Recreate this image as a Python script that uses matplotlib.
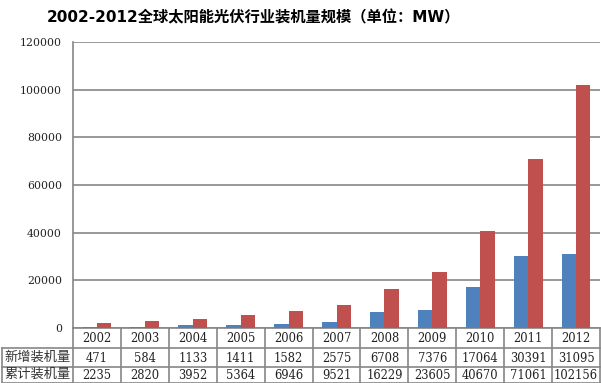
import matplotlib
matplotlib.use("Agg")
import matplotlib.pyplot as plt
import numpy as np

years = ["2002", "2003", "2004", "2005", "2006", "2007", "2008", "2009", "2010", "2011", "2012"]
new_cap = [471, 584, 1133, 1411, 1582, 2575, 6708, 7376, 17064, 30391, 31095]
cum_cap = [2235, 2820, 3952, 5364, 6946, 9521, 16229, 23605, 40670, 71061, 102156]
series_names = ["新增装机量", "累计装机量"]
yticks = [0, 20000, 40000, 60000, 80000, 100000, 120000]
title = "2002-2012全球太阳能光伏行业装机量规模（单位：MW）"

plt.rcParams['font.family'] = ['DejaVu Serif', 'Noto Sans CJK SC']

W, H = 601, 383
fig = plt.figure(figsize=(W / 100, H / 100), dpi=100)
L, R, T, B = 73, 600, 42, 328
ax = fig.add_axes([L / W, 1 - B / H, (R - L) / W, (B - T) / H])

n = len(years)
x = np.arange(n) + 0.5
bw = 0.3
ax.bar(x - bw / 2, new_cap, width=bw, color="#4F81BD", zorder=3)
ax.bar(x + bw / 2, cum_cap, width=bw, color="#C0504D", zorder=3)

ax.set_xlim(0, n)
ax.set_ylim(0, 120000)
ax.set_yticks(yticks)
ax.set_yticklabels([str(v) for v in yticks], fontsize=7.8, color="#222222")
ax.tick_params(axis='y', length=0, pad=8)
ax.set_xticks([])
ax.yaxis.grid(True, color="#868686", linewidth=1.2, zorder=0)
for s in ["top", "right"]:
    ax.spines[s].set_visible(False)
for s in ["left", "bottom"]:
    ax.spines[s].set_color("#868686")
    ax.spines[s].set_linewidth(1.2)

fig.text(253 / W, 1 - 18 / H, title, fontsize=11, fontweight="bold",
         family=["DejaVu Sans", "Noto Sans CJK SC"], ha="center", va="center")

# data table drawn in a pixel-unit overlay axes below the plot
tax = fig.add_axes([0, 0, 1, 1 - B / H])
tax.set_xlim(0, W)
tax.set_ylim(H, B)
tax.axis("off")
gc = "#868686"
lw = 1.2
col_w = (R - L) / n
rows_y = [B, 348, 367, H - 0.5]
# horizontal lines
tax.plot([L, R], [rows_y[1], rows_y[1]], color=gc, lw=lw, clip_on=False)
tax.plot([1.5, L], [rows_y[1], rows_y[1]], color=gc, lw=lw, clip_on=False)
tax.plot([1.5, R], [rows_y[2], rows_y[2]], color=gc, lw=lw, clip_on=False)
tax.plot([1.5, R], [rows_y[3], rows_y[3]], color=gc, lw=lw, clip_on=False)
# vertical lines
tax.plot([1.5, 1.5], [rows_y[1], rows_y[3]], color=gc, lw=lw, clip_on=False)
for i in range(n + 1):
    xx = L + i * col_w
    if i == n:
        xx = R - 0.5
    tax.plot([xx, xx], [rows_y[0], rows_y[3]], color=gc, lw=lw, clip_on=False)

tc = "#222222"
for i in range(n):
    cx = L + (i + 0.5) * col_w
    tax.text(cx, (rows_y[0] + rows_y[1]) / 2 + 0.5, years[i], ha="center", va="center", fontsize=8.3, color=tc)
    tax.text(cx, (rows_y[1] + rows_y[2]) / 2 + 0.5, str(new_cap[i]), ha="center", va="center", fontsize=8.3, color=tc)
    tax.text(cx, (rows_y[2] + rows_y[3]) / 2 + 0.5, str(cum_cap[i]), ha="center", va="center", fontsize=8.3, color=tc)
for j, name in enumerate(series_names):
    tax.text((1.5 + L) / 2, (rows_y[j + 1] + rows_y[j + 2]) / 2, name, ha="center", va="center",
             fontsize=9.5, color="#333333", family=["Noto Sans CJK SC"])

fig.savefig("out.png", dpi=100)
